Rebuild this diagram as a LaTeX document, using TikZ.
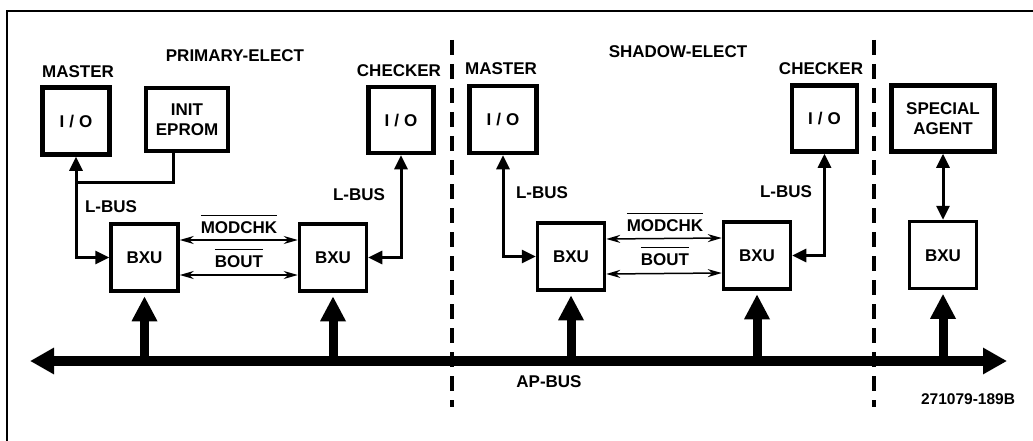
\documentclass[tikz,border=0pt]{standalone}
\usepackage{fontspec}
\setmainfont{Liberation Sans}
\usetikzlibrary{arrows.meta}
\newcommand\ovl[1]{\vbox{\hrule height 1.6pt\kern5pt\hbox{#1}}}
\begin{document}
\begin{tikzpicture}[x=1pt,y=-1pt,
  font=\fontsize{17}{20}\selectfont\bfseries,
  box/.style={draw, inner sep=0pt, minimum width=67pt, minimum height=67pt,
    text height=12.2pt, text depth=0pt},
  iobox/.style={box, line width=4.5pt},
  bxubox/.style={box, line width=3.5pt},
  mbox/.style={draw, line width=4.5pt, inner sep=0pt, align=center},
  lbl/.style={anchor=base, inner sep=0pt},
  lbus/.style={line width=3pt, {Triangle[length=14pt,width=13pt]}-{Triangle[length=14pt,width=13pt]}},
  lbusline/.style={line width=3pt},
  sig/.style={line width=1.5pt, {Stealth[length=14pt,width=8pt]}-{Stealth[length=14pt,width=8pt]}},
  bus/.style={line width=10pt, {Triangle[length=24pt,width=25pt]}-{Triangle[length=24pt,width=25pt]}},
  upbus/.style={line width=9pt, -{Triangle[length=25pt,width=24pt]}, shorten >=3.5pt},
  divider/.style={line width=4.5pt, dash pattern=on 15pt off 9pt},
  frame/.style={line width=2.5pt}
]
\useasboundingbox (0,0) rectangle (1033,441);
\fill[white] (0,0) rectangle (1033,441);
% frame
\draw[frame] (7,441) -- (7,11) -- (1033,11);

% section titles
\node[lbl] (pe) at (235,62) {PRIMARY-ELECT};
\node[lbl] (se) at (678,58) {SHADOW-ELECT};

% primary
\node[lbl] (mlab1) at (78,78) {MASTER};
\node[iobox] (m1) at (76,121) {I\kern5pt/\kern5pt O};
\node[mbox, minimum width=82pt, minimum height=63pt] (ep) at (187,119.5) {INIT\\EPROM};
\node[lbl] (clab1) at (399,77) {CHECKER};
\node[iobox, minimum width=65pt, minimum height=66pt] (c1) at (401,120) {I\kern5pt/\kern5pt O};
\node[bxubox] (bxu1) at (144.5,257.5) {BXU};
\node[bxubox] (bxu2) at (333,257.5) {BXU};

% shadow
\node[lbl] (mlab2) at (501,75) {MASTER};
\node[iobox] (m2) at (503,119.5) {I\kern5pt/\kern5pt O};
\node[lbl] (clab2) at (821,75) {CHECKER};
\node[iobox, minimum width=65pt, minimum height=66pt] (c2) at (824.5,118.5) {I\kern5pt/\kern5pt O};
\node[bxubox] (bxu3) at (571,256.5) {BXU};
\node[bxubox] (bxu4) at (757,255.5) {BXU};

% special agent
\node[mbox, minimum width=103pt, minimum height=66pt] (sa) at (943,118.5) {SPECIAL\\AGENT};
\node[bxubox] (bxu5) at (943,255) {BXU};

% L-BUS connections
\coordinate (ey) at (0,182);
\coordinate (j1) at (m1.south |- ey);
\draw[lbus] (m1.south) |- (bxu1.west);
\draw[lbusline] ([xshift=-14pt]ep.south) |- (j1);
\draw[lbus] (c1.south) |- (bxu2.east);
\draw[lbus] (m2.south) |- (bxu3.west);
\draw[lbus] (c2.south) |- (bxu4.east);
\draw[lbus] (sa.south) -- (bxu5.north);

\node[lbl] (lb1) at (111,212) {L-BUS};
\node[lbl] (lb2) at (359,200) {L-BUS};
\node[lbl] (lb3) at (542,198) {L-BUS};
\node[lbl] (lb4) at (786,197) {L-BUS};

% MODCHK / BOUT
\draw[sig] ([yshift=17.5pt]bxu1.east) -- ([yshift=17.5pt]bxu2.west);
\draw[sig] ([yshift=-17.5pt]bxu1.east) -- ([yshift=-17.5pt]bxu2.west);
\draw[sig] ([yshift=17.5pt]bxu3.east) -- ([yshift=17.5pt]bxu4.west);
\draw[sig] ([yshift=-17.5pt]bxu3.east) -- ([yshift=-17.5pt]bxu4.west);
\node[lbl] (mc1) at (239,233) {\ovl{MODCHK}};
\node[lbl] (bo1) at (239,267) {\ovl{BOUT}};
\node[lbl] (mc2) at (665,231) {\ovl{MODCHK}};
\node[lbl] (bo2) at (665,265) {\ovl{BOUT}};

% AP-BUS
\coordinate (busL) at (30,361);
\coordinate (busR) at (1007,361);
\draw[bus] (busL) -- (busR);
\draw[upbus] (bxu1.south |- busL) -- (bxu1.south);
\draw[upbus] (bxu2.south |- busL) -- (bxu2.south);
\draw[upbus] (bxu3.south |- busL) -- (bxu3.south);
\draw[upbus] (bxu4.south |- busL) -- (bxu4.south);
\draw[upbus] (bxu5.south |- busL) -- (bxu5.south);
\node[lbl] (ap) at (549,387) {AP-BUS};

% dividers
\coordinate (d1t) at (452,40);
\coordinate (d1b) at (452,407);
\coordinate (d2t) at (874,40);
\coordinate (d2b) at (874,407);
\draw[divider] (d1t) -- (d1b);
\draw[divider] (d2t) -- (d2b);

\node[lbl, font=\fontsize{15.5}{18}\selectfont\bfseries] (fig) at (968,404) {271079-189B};
\end{tikzpicture}
\end{document}
